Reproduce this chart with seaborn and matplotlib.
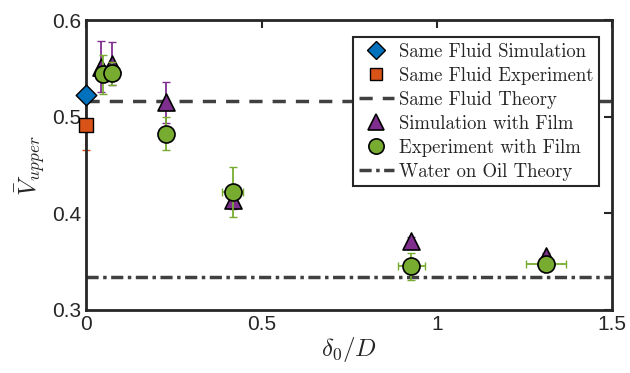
import numpy as np
import pandas as pd
import seaborn as sns
import matplotlib.pyplot as plt
from matplotlib.lines import Line2D

# values
same_sim_x = [0.0]
same_sim_y = [0.522]

same_exp_x = [0.0]
same_exp_y = [0.491]
same_exp_yerr = [0.025]

same_theory = 0.516
oil_theory = 0.3345

sim_film_x = [0.043, 0.072, 0.227, 0.417, 0.927, 1.312]
sim_film_y = [0.552, 0.555, 0.515, 0.414, 0.371, 0.356]
sim_film_yerr = [0.026, 0.022, 0.021, 0.010, 0.005, 0.003]

exp_film_x = [0.048, 0.072, 0.227, 0.417, 0.927, 1.312]
exp_film_y = [0.544, 0.545, 0.4825, 0.4224, 0.345, 0.348]
exp_film_yerr = [0.020, 0.012, 0.017, 0.026, 0.014, 0.003]
exp_film_xerr = [0.0, 0.0, 0.0, 0.030, 0.039, 0.057]

blue = '#0072BD'
orange = '#D95319'
purple = '#7E2F8E'
green = '#77AC30'
gray = '#404040'
dash = (0, (3.8, 2.9))
dashdot = (0, (3.5, 1.3, 1.0, 1.3))

sns.set_style('white')
plt.rcParams['font.family'] = ['Liberation Sans', 'DejaVu Sans']
plt.rcParams['mathtext.fontset'] = 'cm'

fig = plt.figure(figsize=(6.3, 3.73), dpi=100)
ax = fig.add_axes([0.137, 0.169, 0.835, 0.777])

ax.axhline(same_theory, color=gray, lw=2.5, ls=dash, zorder=1)
ax.axhline(oil_theory, color=gray, lw=2.5, ls=dashdot, zorder=1)

ax.errorbar(same_exp_x, same_exp_y, yerr=same_exp_yerr, fmt='none', ecolor=orange,
            elinewidth=1.3, capsize=3, zorder=2, clip_on=False)
ax.errorbar(sim_film_x, sim_film_y, yerr=sim_film_yerr, fmt='none', ecolor=purple,
            elinewidth=1.3, capsize=3, zorder=2)
ax.errorbar(exp_film_x, exp_film_y, yerr=exp_film_yerr, xerr=exp_film_xerr, fmt='none',
            ecolor=green, elinewidth=1.3, capsize=3, zorder=4)

sim_df = pd.DataFrame({'x': sim_film_x, 'y': sim_film_y})
exp_df = pd.DataFrame({'x': exp_film_x, 'y': exp_film_y})
sns.scatterplot(data=sim_df, x='x', y='y', marker='^', s=150, color=purple,
                edgecolor='black', linewidth=1.2, ax=ax, zorder=3)
sns.scatterplot(data=exp_df, x='x', y='y', marker='o', s=150, color=green,
                edgecolor='black', linewidth=1.2, ax=ax, zorder=5)
sns.scatterplot(x=same_exp_x, y=same_exp_y, marker='s', s=90, color=orange,
                edgecolor='black', linewidth=1.0, ax=ax, zorder=6, clip_on=False)
sns.scatterplot(x=same_sim_x, y=same_sim_y, marker='D', s=110, color=blue,
                edgecolor='black', linewidth=1.0, ax=ax, zorder=6, clip_on=False)

ax.set_xlim(0, 1.5)
ax.set_ylim(0.3, 0.6)
ax.set_xticks([0, 0.5, 1, 1.5])
ax.set_xticklabels(['0', '0.5', '1', '1.5'])
ax.set_yticks([0.3, 0.4, 0.5, 0.6])
ax.set_yticklabels(['0.3', '0.4', '0.5', '0.6'])
ax.tick_params(direction='in', length=6, width=1.5, labelsize=15, colors='#262626',
               top=True, right=True, labelcolor='#262626')
for s in ax.spines.values():
    s.set_linewidth(2)
    s.set_color('#262626')

ax.set_xlabel(r'$\delta_0/D$', fontsize=18, color='#262626', labelpad=1)
ax.set_ylabel(r'$\bar{V}_{upper}$', fontsize=18, color='#262626', labelpad=4)

handles = [
    Line2D([], [], ls='none', marker='D', ms=9, mfc=blue, mec='black', mew=1),
    Line2D([], [], ls='none', marker='s', ms=8, mfc=orange, mec='black', mew=1),
    Line2D([], [], color=gray, lw=2.5, ls=dash),
    Line2D([], [], ls='none', marker='^', ms=11, mfc=purple, mec='black', mew=1.2),
    Line2D([], [], ls='none', marker='o', ms=11, mfc=green, mec='black', mew=1.2),
    Line2D([], [], color=gray, lw=2.5, ls=dashdot),
]
labels = ['Same Fluid Simulation', 'Same Fluid Experiment', 'Same Fluid Theory',
          'Simulation with Film', 'Experiment with Film', 'Water on Oil Theory']
leg = ax.legend(handles, labels, loc='upper right', bbox_to_anchor=(0.985, 0.96),
                prop={'family': 'cmr10', 'size': 13.5}, frameon=True, fancybox=False,
                framealpha=1, edgecolor='#262626', handlelength=1.9, handletextpad=0.25,
                labelspacing=0.32, borderpad=0.3, borderaxespad=0.3)
leg.get_frame().set_linewidth(1.5)

fig.savefig('out.png', dpi=100)
